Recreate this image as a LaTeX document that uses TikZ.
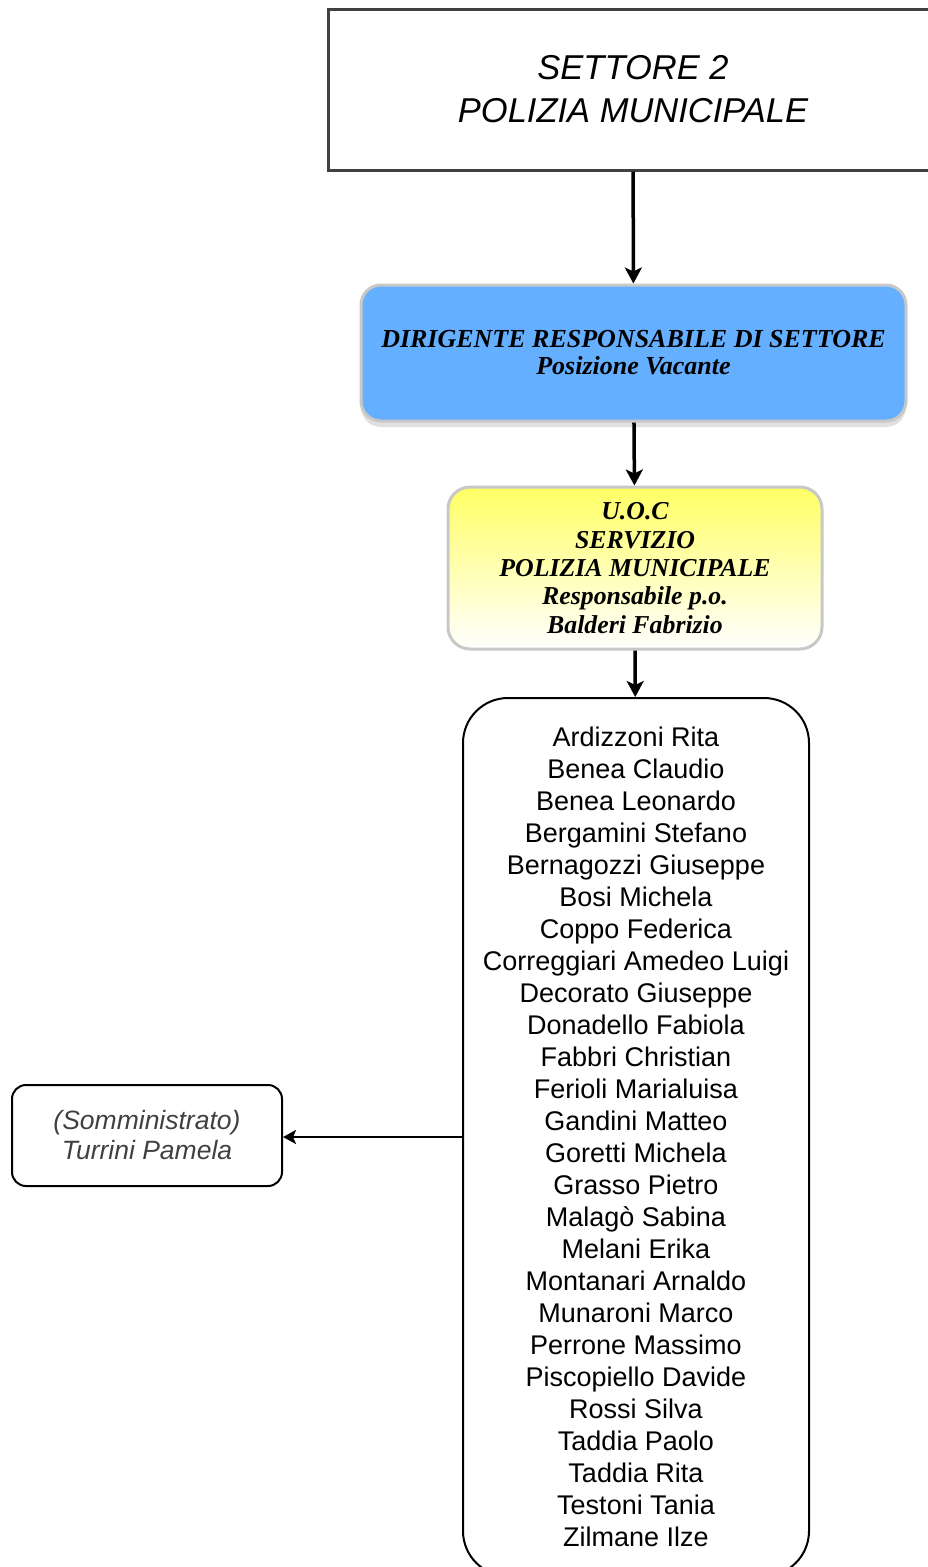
\documentclass[tikz,border=0pt]{standalone}
\usepackage{fontspec}
\setmainfont{Liberation Sans}
\newfontfamily\serifbi{Liberation Serif}
\usetikzlibrary{arrows.meta,shadows}
\definecolor{dirblue}{RGB}{100,175,255}
\definecolor{uocyellow}{RGB}{255,255,100}
\definecolor{bordogrigio}{RGB}{200,200,200}
\tikzset{
	freccia/.style={line width=3.5pt,-{Stealth[length=16pt,width=17pt,inset=4pt]}},
	freccina/.style={line width=2.2pt,-{Stealth[length=13pt,width=14pt,inset=3pt]}},
	scatola/.style={draw,align=center,inner sep=0pt},
}
\begin{document}
\begin{tikzpicture}[x=1pt,y=-1pt]
		\useasboundingbox (0,0) rectangle (928,1567);
		\clip (0,0) rectangle (928,1567);
		\node[scatola,draw=black!75,line width=3pt,minimum width=610,minimum height=161,font=\itshape\fontsize{34.5}{43}\selectfont] (settore) at (633,89.5) {SETTORE 2\\POLIZIA MUNICIPALE};
		\node[scatola,draw=bordogrigio,line width=3pt,fill=dirblue,rounded corners=20pt,minimum width=545,minimum height=136,drop shadow={shadow xshift=0pt,shadow yshift=-6pt,fill=black!12,opacity=1},font=\serifbi\bfseries\itshape\fontsize{26}{27}\selectfont] (dirigente) at (633.5,353) {DIRIGENTE RESPONSABILE DI SETTORE\\Posizione Vacante};
		\node[scatola,draw=bordogrigio,line width=3pt,top color=uocyellow,bottom color=white,rounded corners=22pt,minimum width=374,minimum height=162,font=\serifbi\bfseries\itshape\fontsize{25.8}{28.3}\selectfont] (uoc) at (635,568) {U.O.C\\SERVIZIO\\POLIZIA MUNICIPALE\\Responsabile p.o.\\Balderi Fabrizio};
		\node[scatola,line width=2pt,rounded corners=45pt,minimum width=346,minimum height=878,font=\fontsize{27}{32}\selectfont] (nomi) at (636,1137) {Ardizzoni Rita\\Benea Claudio\\Benea Leonardo\\Bergamini Stefano\\Bernagozzi Giuseppe\\Bosi Michela\\Coppo Federica\\Correggiari Amedeo Luigi\\Decorato Giuseppe\\Donadello Fabiola\\Fabbri Christian\\Ferioli Marialuisa\\Gandini Matteo\\Goretti Michela\\Grasso Pietro\\Malagò Sabina\\Melani Erika\\Montanari Arnaldo\\Munaroni Marco\\Perrone Massimo\\Piscopiello Davide\\Rossi Silva\\Taddia Paolo\\Taddia Rita\\Testoni Tania\\Zilmane Ilze};
		\node[scatola,line width=2pt,rounded corners=14pt,minimum width=270,minimum height=101,text=black!75,font=\itshape\fontsize{26.5}{30}\selectfont] (somministrato) at (147,1135.5) {(Somministrato)\\Turrini Pamela};
		\draw[freccia] (settore) -- (dirigente);
		\draw[freccia] (dirigente) -- (uoc);
		\draw[freccia] (uoc) -- (nomi);
		\draw[freccina] (nomi.west) -- (nomi.west -| somministrato.east);
\end{tikzpicture}
\end{document}
